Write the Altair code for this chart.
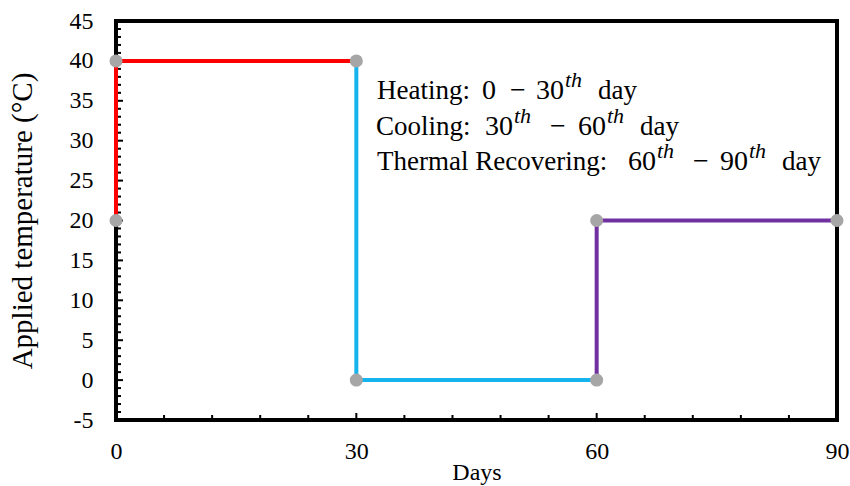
import altair as alt
import pandas as pd

# ---- data ----
seg_phase = ["Heating", "Heating", "Heating", "Cooling", "Cooling", "Cooling", "Recovering", "Recovering", "Recovering"]
seg_order = [0, 1, 2, 0, 1, 2, 0, 1, 2]
seg_day = [0, 0, 30, 30, 30, 60, 60, 60, 90]
seg_temp = [20, 40, 40, 40, 0, 0, 0, 20, 20]

pt_day = [0, 0, 30, 30, 60, 60, 90]
pt_temp = [20, 40, 40, 0, 0, 20, 20]

phase_names = ["Heating", "Cooling", "Recovering"]
phase_colors = ["#FF0000", "#16B4EE", "#7030A0"]

y_labels = [-5, 0, 5, 10, 15, 20, 25, 30, 35, 40, 45]
x_labels = [0, 30, 60, 90]
y_minor = list(range(-5, 46))
x_minor = list(range(0, 91, 6))

# annotation pieces: text, line, kind (0 text, 1 math, 2 superscript), x-position (px)
ann_text = ["Heating:", "0", "\u2212", "30", "th", "day",
            "Cooling:", "30", "th", "\u2212", "60", "th", "day",
            "Thermal Recovering:", "60", "th", "\u2212", "90", "th", "day"]
ann_line = [0, 0, 0, 0, 0, 0,
            1, 1, 1, 1, 1, 1, 1,
            2, 2, 2, 2, 2, 2, 2]
ann_kind = [0, 1, 1, 1, 2, 0,
            0, 1, 2, 1, 1, 2, 0,
            0, 1, 2, 1, 1, 2, 0]
ann_x = [377, 482, 510, 536, 565, 598,
         376, 485, 514, 550, 578, 607, 640,
         377, 628, 657, 693, 720, 749, 782]

W, H = 721, 399
FONT = "Liberation Serif"

seg_df = pd.DataFrame({"phase": seg_phase, "order": seg_order, "day": seg_day, "temp": seg_temp})
pt_df = pd.DataFrame({"day": pt_day, "temp": pt_temp})
ymin_df = pd.DataFrame({"day": [0] * len(y_minor), "temp": y_minor,
                        "major": [int(v % 5 == 0) for v in y_minor]})
xmin_df = pd.DataFrame({"day": x_minor, "temp": [-5] * len(x_minor),
                        "major": [int(v % 30 == 0) for v in x_minor]})
ann_df = pd.DataFrame({"t": ann_text, "line": ann_line, "kind": ann_kind, "px": ann_x})

xs = alt.Scale(domain=[0, 90], nice=False, zero=False)
ys = alt.Scale(domain=[-5, 45], nice=False, zero=False)

x_axis = alt.Axis(values=x_labels, grid=False, ticks=False, tickSize=0, domain=False,
                  labelFlush=False, labelOverlap=False,
                  labelFont=FONT, labelFontSize=24, labelColor="black", labelPadding=19,
                  titleFont=FONT, titleFontSize=24, titleFontWeight="normal",
                  titleColor="black", titlePadding=-3)
y_axis = alt.Axis(values=y_labels, grid=False, ticks=False, tickSize=0, domain=False,
                  labelFlush=False, labelOverlap=False,
                  labelExpr="'' + datum.value",
                  labelFont=FONT, labelFontSize=24, labelColor="black", labelPadding=23,
                  titleFont=FONT, titleFontSize=29, titleFontWeight="normal",
                  titleColor="black", titlePadding=32)

XT = "Days"
YT = "Applied temperature (\u00b0C)"


def xenc():
    return alt.X("day:Q", scale=xs, axis=x_axis, title=XT)


def yenc():
    return alt.Y("temp:Q", scale=ys, axis=y_axis, title=YT)


ytick_major = alt.Chart(ymin_df).transform_filter("datum.major == 1").mark_rule(color="black", strokeWidth=2).encode(
    y=yenc(), x=alt.value(0), x2=alt.value(7))
ytick_minor = alt.Chart(ymin_df).transform_filter("datum.major == 0").mark_rule(color="black", strokeWidth=2).encode(
    y=yenc(), x=alt.value(0), x2=alt.value(5))
xtick_major = alt.Chart(xmin_df).transform_filter("datum.major == 1").mark_rule(color="black", strokeWidth=2).encode(
    x=xenc(), y=alt.value(H), y2=alt.value(H - 7))
xtick_minor = alt.Chart(xmin_df).transform_filter("datum.major == 0").mark_rule(color="black", strokeWidth=2).encode(
    x=xenc(), y=alt.value(H), y2=alt.value(H - 5))

lines = alt.Chart(seg_df).mark_line(strokeWidth=4).encode(
    x=xenc(),
    y=yenc(),
    color=alt.Color("phase:N", scale=alt.Scale(domain=phase_names, range=phase_colors), legend=None),
    order="order:Q",
)

points = alt.Chart(pt_df).mark_circle(size=170, color="#A6A6A6", opacity=1).encode(
    x=xenc(),
    y=yenc(),
)


def ann_layer(kind, size, dy, style):
    return alt.Chart(ann_df).transform_filter(f"datum.kind == {kind}").transform_calculate(
        py=f"{99 - 21 + dy} + datum.line * 35.5", pxx="datum.px - 116"
    ).mark_text(font=FONT, fontSize=size, fontStyle=style, align="left",
                baseline="alphabetic", color="black").encode(
        text="t:N",
        x=alt.X("pxx:Q", scale=None),
        y=alt.Y("py:Q", scale=None),
    )


main_txt = ann_layer(0, 27, 0, "normal")
math_txt = ann_layer(1, 28, 0, "normal")
sup_txt = ann_layer(2, 22, -12, "italic")

chart = alt.layer(ytick_major, ytick_minor, xtick_major, xtick_minor,
                  lines, points, main_txt, math_txt, sup_txt).properties(
    width=W, height=H,
    autosize=alt.AutoSizeParams(type="none"),
    padding={"left": 116, "top": 21, "right": 13, "bottom": 66},
    background="white",
).configure_view(stroke="black", strokeWidth=4)

chart.save("out.html", embed_options={"renderer": "svg", "actions": False})
